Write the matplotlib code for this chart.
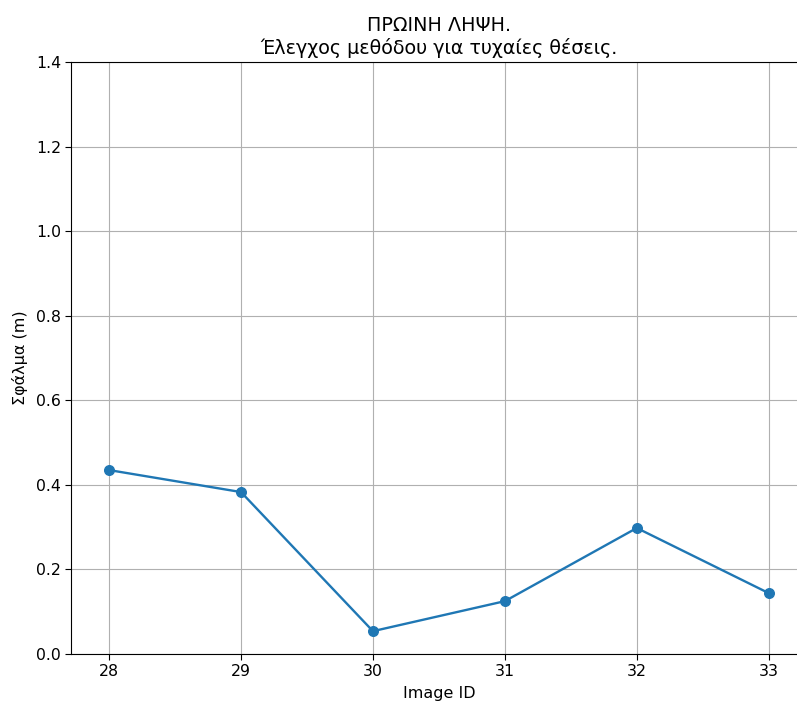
import matplotlib.pyplot as plt

image_ids = [28, 29, 30, 31, 32, 33]
errors = [0.435, 0.383, 0.054, 0.125, 0.298, 0.144]

fig = plt.figure(figsize=(7.97, 7.03), dpi=100)
ax = fig.add_axes([0.0897, 0.0697, 0.922, 0.842])

ax.plot(image_ids, errors, color='tab:blue', linewidth=1.7, zorder=3)
ax.scatter(image_ids, errors, color='tab:blue', s=48, zorder=4)

ax.set_xlim(27.715, 33.285)
ax.set_ylim(0, 1.4)
ax.grid(True)
ax.tick_params(labelsize=11.3, length=4)
ax.set_xlabel("Image ID", fontsize=11.5, labelpad=5)
ax.set_ylabel("Σφάλμα (m)", fontsize=11.5, labelpad=6)
ax.set_title("ΠΡΩΙΝΗ ΛΗΨΗ.\nΈλεγχος μεθόδου για τυχαίες θέσεις.", fontsize=13.8, pad=6)

plt.savefig("out.png", dpi=100)
